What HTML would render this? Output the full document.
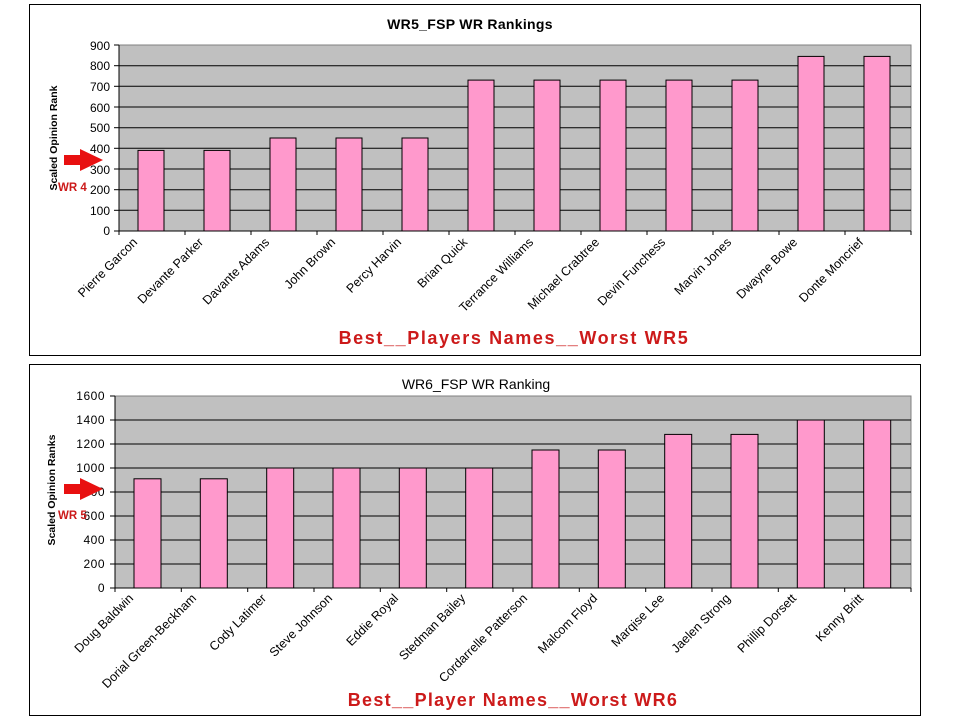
<!DOCTYPE html>
<html><head><meta charset="utf-8"><style>body{margin:0;background:#fff}svg{display:block}text{font-family:"Liberation Sans",Arial,sans-serif}</style></head><body>
<svg width="960" height="720" viewBox="0 0 960 720" xmlns="http://www.w3.org/2000/svg">
<rect width="960" height="720" fill="#fff"/>
<!-- Chart 1 -->
<rect x="29.5" y="4.5" width="891" height="351" fill="#fff" stroke="#000"/>
<text x="470" y="29" font-size="14" font-weight="bold" text-anchor="middle" letter-spacing="0.3">WR5_FSP WR Rankings</text>
<rect x="119" y="45" width="792" height="186" fill="#c0c0c0" stroke="#808080"/>
<g stroke="#000" stroke-width="1">
<line x1="119" x2="911" y1="65.7" y2="65.7"/><line x1="119" x2="911" y1="86.3" y2="86.3"/><line x1="119" x2="911" y1="107" y2="107"/><line x1="119" x2="911" y1="127.7" y2="127.7"/><line x1="119" x2="911" y1="148.3" y2="148.3"/><line x1="119" x2="911" y1="169" y2="169"/><line x1="119" x2="911" y1="189.7" y2="189.7"/><line x1="119" x2="911" y1="210.3" y2="210.3"/>
<line x1="119" x2="911" y1="231" y2="231"/><line x1="119" x2="119" y1="45" y2="235"/>
</g>
<g stroke="#000">
<line x1="114" x2="119" y1="45" y2="45"/><line x1="114" x2="119" y1="65.7" y2="65.7"/><line x1="114" x2="119" y1="86.3" y2="86.3"/><line x1="114" x2="119" y1="107" y2="107"/><line x1="114" x2="119" y1="127.7" y2="127.7"/><line x1="114" x2="119" y1="148.3" y2="148.3"/><line x1="114" x2="119" y1="169" y2="169"/><line x1="114" x2="119" y1="189.7" y2="189.7"/><line x1="114" x2="119" y1="210.3" y2="210.3"/><line x1="114" x2="119" y1="231" y2="231"/>
<line x1="185" x2="185" y1="231" y2="235"/><line x1="251" x2="251" y1="231" y2="235"/><line x1="317" x2="317" y1="231" y2="235"/><line x1="383" x2="383" y1="231" y2="235"/><line x1="449" x2="449" y1="231" y2="235"/><line x1="515" x2="515" y1="231" y2="235"/><line x1="581" x2="581" y1="231" y2="235"/><line x1="647" x2="647" y1="231" y2="235"/><line x1="713" x2="713" y1="231" y2="235"/><line x1="779" x2="779" y1="231" y2="235"/><line x1="845" x2="845" y1="231" y2="235"/><line x1="911" x2="911" y1="231" y2="235"/>
</g>
<g font-size="12" text-anchor="end">
<text x="110" y="50">900</text><text x="110" y="70">800</text><text x="110" y="91">700</text><text x="110" y="112">600</text><text x="110" y="132">500</text><text x="110" y="153">400</text><text x="110" y="174">300</text><text x="110" y="194">200</text><text x="110" y="215">100</text><text x="110" y="235">0</text>
</g>
<g fill="#ff99cc" stroke="#000">
<rect x="138" y="150.4" width="26" height="80.6"/><rect x="204" y="150.4" width="26" height="80.6"/><rect x="270" y="138" width="26" height="93"/><rect x="336" y="138" width="26" height="93"/><rect x="402" y="138" width="26" height="93"/><rect x="468" y="80.1" width="26" height="150.9"/><rect x="534" y="80.1" width="26" height="150.9"/><rect x="600" y="80.1" width="26" height="150.9"/><rect x="666" y="80.1" width="26" height="150.9"/><rect x="732" y="80.1" width="26" height="150.9"/><rect x="798" y="56.4" width="26" height="174.6"/><rect x="864" y="56.4" width="26" height="174.6"/>
</g>
<text transform="translate(57,138) rotate(-90)" font-size="10.5" font-weight="bold" text-anchor="middle">Scaled Opinion Rank</text>
<g font-size="12.5" text-anchor="end">
<text transform="translate(138,243) rotate(-45)">Pierre Garcon</text>
<text transform="translate(204,243) rotate(-45)">Devante Parker</text>
<text transform="translate(270,243) rotate(-45)">Davante Adams</text>
<text transform="translate(336,243) rotate(-45)">John Brown</text>
<text transform="translate(402,243) rotate(-45)">Percy Harvin</text>
<text transform="translate(468,243) rotate(-45)">Brian Quick</text>
<text transform="translate(534,243) rotate(-45)">Terrance Williams</text>
<text transform="translate(600,243) rotate(-45)">Michael Crabtree</text>
<text transform="translate(666,243) rotate(-45)">Devin Funchess</text>
<text transform="translate(732,243) rotate(-45)">Marvin Jones</text>
<text transform="translate(798,243) rotate(-45)">Dwayne Bowe</text>
<text transform="translate(864,243) rotate(-45)">Donte Moncrief</text>
</g>
<polygon points="64,155 80,155 80,149 103,160 80,171 80,165 64,165" fill="#e81010"/>
<text x="58" y="191" font-size="11.5" font-weight="bold" fill="#cc1a1a">WR 4</text>
<text x="514" y="344" font-size="18" font-weight="bold" fill="#cc1a1a" text-anchor="middle" letter-spacing="1.6">Best__Players Names__Worst WR5</text>

<!-- Chart 2 -->
<rect x="29.5" y="364.5" width="891" height="351" fill="#fff" stroke="#000"/>
<text x="476" y="389" font-size="14" text-anchor="middle">WR6_FSP WR Ranking</text>
<rect x="115" y="396" width="796" height="192" fill="#c0c0c0" stroke="#808080"/>
<g stroke="#000">
<line x1="115" x2="911" y1="420" y2="420"/><line x1="115" x2="911" y1="444" y2="444"/><line x1="115" x2="911" y1="468" y2="468"/><line x1="115" x2="911" y1="492" y2="492"/><line x1="115" x2="911" y1="516" y2="516"/><line x1="115" x2="911" y1="540" y2="540"/><line x1="115" x2="911" y1="564" y2="564"/><line x1="115" x2="911" y1="588" y2="588"/><line x1="115" x2="115" y1="396" y2="592"/>
<line x1="110" x2="115" y1="396" y2="396"/><line x1="110" x2="115" y1="420" y2="420"/><line x1="110" x2="115" y1="444" y2="444"/><line x1="110" x2="115" y1="468" y2="468"/><line x1="110" x2="115" y1="492" y2="492"/><line x1="110" x2="115" y1="516" y2="516"/><line x1="110" x2="115" y1="540" y2="540"/><line x1="110" x2="115" y1="564" y2="564"/><line x1="110" x2="115" y1="588" y2="588"/>
<line x1="181.3" x2="181.3" y1="588" y2="592"/><line x1="247.7" x2="247.7" y1="588" y2="592"/><line x1="314" x2="314" y1="588" y2="592"/><line x1="380.3" x2="380.3" y1="588" y2="592"/><line x1="446.7" x2="446.7" y1="588" y2="592"/><line x1="513" x2="513" y1="588" y2="592"/><line x1="579.3" x2="579.3" y1="588" y2="592"/><line x1="645.7" x2="645.7" y1="588" y2="592"/><line x1="712" x2="712" y1="588" y2="592"/><line x1="778.3" x2="778.3" y1="588" y2="592"/><line x1="844.7" x2="844.7" y1="588" y2="592"/><line x1="911" x2="911" y1="588" y2="592"/>
</g>
<g font-size="12" text-anchor="end" letter-spacing="0.5">
<text x="105" y="400">1600</text><text x="105" y="424">1400</text><text x="105" y="448">1200</text><text x="105" y="472">1000</text><text x="105" y="496">800</text><text x="105" y="520">600</text><text x="105" y="544">400</text><text x="105" y="568">200</text><text x="105" y="592">0</text>
</g>
<g fill="#ff99cc" stroke="#000">
<rect x="134" y="478.8" width="27" height="109.2"/><rect x="200.3" y="478.8" width="27" height="109.2"/><rect x="266.7" y="468" width="27" height="120"/><rect x="333" y="468" width="27" height="120"/><rect x="399.3" y="468" width="27" height="120"/><rect x="465.7" y="468" width="27" height="120"/><rect x="532" y="450" width="27" height="138"/><rect x="598.3" y="450" width="27" height="138"/><rect x="664.7" y="434.4" width="27" height="153.6"/><rect x="731" y="434.4" width="27" height="153.6"/><rect x="797.3" y="420" width="27" height="168"/><rect x="863.7" y="420" width="27" height="168"/>
</g>
<text transform="translate(55,490) rotate(-90)" font-size="10.5" font-weight="bold" text-anchor="middle">Scaled Opinion Ranks</text>
<g font-size="12.5" text-anchor="end">
<text transform="translate(134,599) rotate(-45)">Doug Baldwin</text>
<text transform="translate(197,599) rotate(-45)">Dorial Green-Beckham</text>
<text transform="translate(267,599) rotate(-45)">Cody Latimer</text>
<text transform="translate(333,599) rotate(-45)">Steve Johnson</text>
<text transform="translate(399,599) rotate(-45)">Eddie Royal</text>
<text transform="translate(466,599) rotate(-45)">Stedman Bailey</text>
<text transform="translate(528,599) rotate(-45)">Cordarrelle Patterson</text>
<text transform="translate(598,599) rotate(-45)">Malcom Floyd</text>
<text transform="translate(665,599) rotate(-45)">Marqise Lee</text>
<text transform="translate(731,599) rotate(-45)">Jaelen Strong</text>
<text transform="translate(797,599) rotate(-45)">Phillip Dorsett</text>
<text transform="translate(864,599) rotate(-45)">Kenny Britt</text>
</g>
<polygon points="64,484 80,484 80,478 103,489 80,500 80,494 64,494" fill="#e81010"/>
<text x="58" y="519" font-size="11.5" font-weight="bold" fill="#cc1a1a">WR 5</text>
<text x="513" y="706" font-size="18" font-weight="bold" fill="#cc1a1a" text-anchor="middle" letter-spacing="1.3">Best__Player Names__Worst WR6</text>
</svg>
</body></html>
